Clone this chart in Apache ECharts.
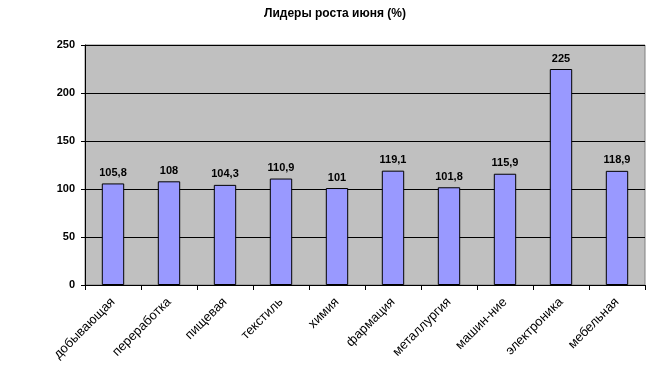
<!DOCTYPE html>
<html>
<head>
<meta charset="utf-8">
<script src="https://cdn.jsdelivr.net/npm/echarts@6/dist/echarts.min.js"></script>
<style>
  html, body { margin: 0; padding: 0; background: #fff; }
  #chart { width: 670px; height: 376px; }
</style>
</head>
<body>
<div id="chart"></div>
<script>
var categories = ['добывающая', 'переработка', 'пищевая', 'текстиль', 'химия',
  'фармация', 'металлургия', 'машин-ние', 'электроника', 'мебельная'];
var values = [105.8, 108, 104.3, 110.9, 101, 119.1, 101.8, 115.9, 225, 118.9];
var yTicks = [0, 50, 100, 150, 200, 250];

var font = 'Liberation Sans, Arial, sans-serif';

var option = {
  animation: false,
  backgroundColor: '#fff',
  title: {
    text: 'Лидеры роста июня (%)',
    left: 'center',
    top: 3,
    textStyle: { fontFamily: font, fontSize: 12, fontWeight: 'bold', color: '#000' }
  },
  grid: {
    left: 85, right: 25, top: 45, bottom: 91,
    show: true,
    backgroundColor: '#c0c0c0',
    borderColor: '#808080',
    borderWidth: 1
  },
  xAxis: {
    type: 'category',
    data: categories,
    axisLine: { lineStyle: { color: '#000', width: 1 } },
    axisTick: { show: true, alignWithLabel: false, length: 5, lineStyle: { color: '#000' } },
    axisLabel: {
      rotate: 45,
      interval: 0,
      margin: 15,
      fontFamily: font,
      fontSize: 13,
      color: '#000'
    }
  },
  yAxis: {
    type: 'value',
    min: yTicks[0],
    max: yTicks[yTicks.length - 1],
    interval: 50,
    axisLine: { show: true, lineStyle: { color: '#000', width: 1 } },
    axisTick: { show: true, length: 4, lineStyle: { color: '#000' } },
    splitLine: { show: true, lineStyle: { color: '#000', width: 1 } },
    axisLabel: {
      margin: 10,
      fontFamily: font,
      fontSize: 11,
      fontWeight: 'bold',
      color: '#000'
    }
  },
  series: [{
    type: 'bar',
    data: values,
    barWidth: '40%',
    itemStyle: { color: '#9999ff', borderColor: '#000', borderWidth: 1 },
    label: {
      show: true,
      position: 'top',
      distance: 5,
      fontFamily: font,
      fontSize: 11,
      fontWeight: 'bold',
      color: '#000',
      formatter: function (p) { return String(p.value).replace('.', ','); }
    }
  }]
};

echarts.init(document.getElementById('chart')).setOption(option);
</script>
</body>
</html>
